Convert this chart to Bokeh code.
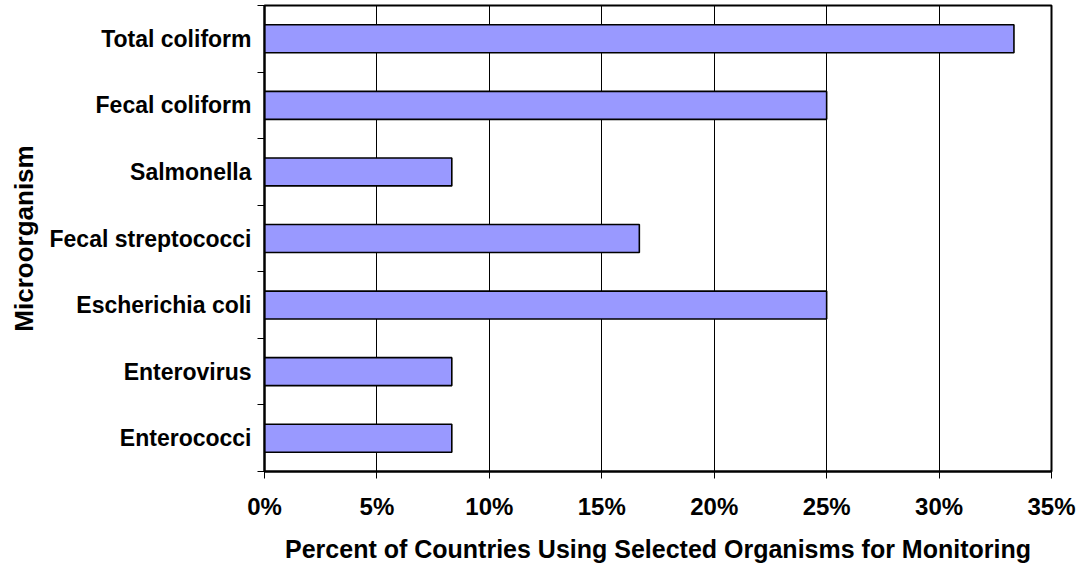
from bokeh.plotting import figure
from bokeh.models import Range1d, FixedTicker, ColumnDataSource
from bokeh.embed import file_html
from bokeh.resources import INLINE

# Data (bottom to top as drawn)
organisms = ["Enterococci", "Enterovirus", "Escherichia coli", "Fecal streptococci",
             "Salmonella", "Fecal coliform", "Total coliform"]
percent_using = [8.33, 8.33, 25.0, 16.67, 8.33, 25.0, 33.33]
x_ticks = [0, 5, 10, 15, 20, 25, 30, 35]
x_tick_labels = ["0%", "5%", "10%", "15%", "20%", "25%", "30%", "35%"]

FONT = "Liberation Sans"

n = len(organisms)
centers = [i + 0.5 for i in range(n)]
bounds = list(range(n + 1))

src = ColumnDataSource(dict(y=centers, v=percent_using, name=organisms))

p = figure(width=1080, height=565, output_backend="svg", toolbar_location=None,
           x_range=Range1d(0, 35), y_range=Range1d(0, n),
           min_border_left=264, min_border_right=29, min_border_top=5,
           min_border_bottom=94)

p.hbar(y="y", right="v", left=0, height=0.42, source=src,
       fill_color="#9999FF", line_color="black", line_width=1.6)

p.outline_line_color = "black"
p.outline_line_width = 2
p.background_fill_color = "white"
p.border_fill_color = "white"

p.ygrid.grid_line_color = None
p.xgrid.grid_line_color = "black"
p.xgrid.grid_line_width = 1
p.xgrid.ticker = FixedTicker(ticks=x_ticks)

xa = p.xaxis[0]
xa.ticker = FixedTicker(ticks=x_ticks)
xa.major_label_overrides = {t: l for t, l in zip(x_ticks, x_tick_labels)}
xa.major_tick_out = 7
xa.major_tick_in = 0
xa.minor_tick_line_color = None
xa.axis_line_color = "black"
xa.axis_line_width = 2
xa.major_tick_line_color = "black"
xa.major_label_text_font = FONT
xa.major_label_text_font_style = "bold"
xa.major_label_text_font_size = "24px"
xa.major_label_text_color = "black"
xa.major_label_standoff = 14
xa.axis_label = "Percent of Countries Using Selected Organisms for Monitoring"
xa.axis_label_text_font = FONT
xa.axis_label_text_font_style = "bold"
xa.axis_label_text_font_size = "25px"
xa.axis_label_text_color = "black"
xa.axis_label_standoff = 12

ya = p.yaxis[0]
ya.ticker = FixedTicker(ticks=centers, minor_ticks=bounds)
ya.major_label_overrides = {c: name for c, name in zip(centers, organisms)}
ya.major_tick_out = 0
ya.major_tick_in = 0
ya.minor_tick_out = 7
ya.minor_tick_in = 0
ya.minor_tick_line_color = "black"
ya.axis_line_color = "black"
ya.axis_line_width = 2
ya.major_label_text_font = FONT
ya.major_label_text_font_style = "bold"
ya.major_label_text_font_size = "23px"
ya.major_label_text_color = "black"
ya.major_label_standoff = 6
ya.axis_label = "Microorganism"
ya.axis_label_text_font = FONT
ya.axis_label_text_font_style = "bold"
ya.axis_label_text_font_size = "26px"
ya.axis_label_text_color = "black"
ya.axis_label_standoff = 8

open("out.html", "w").write(file_html(p, INLINE))
